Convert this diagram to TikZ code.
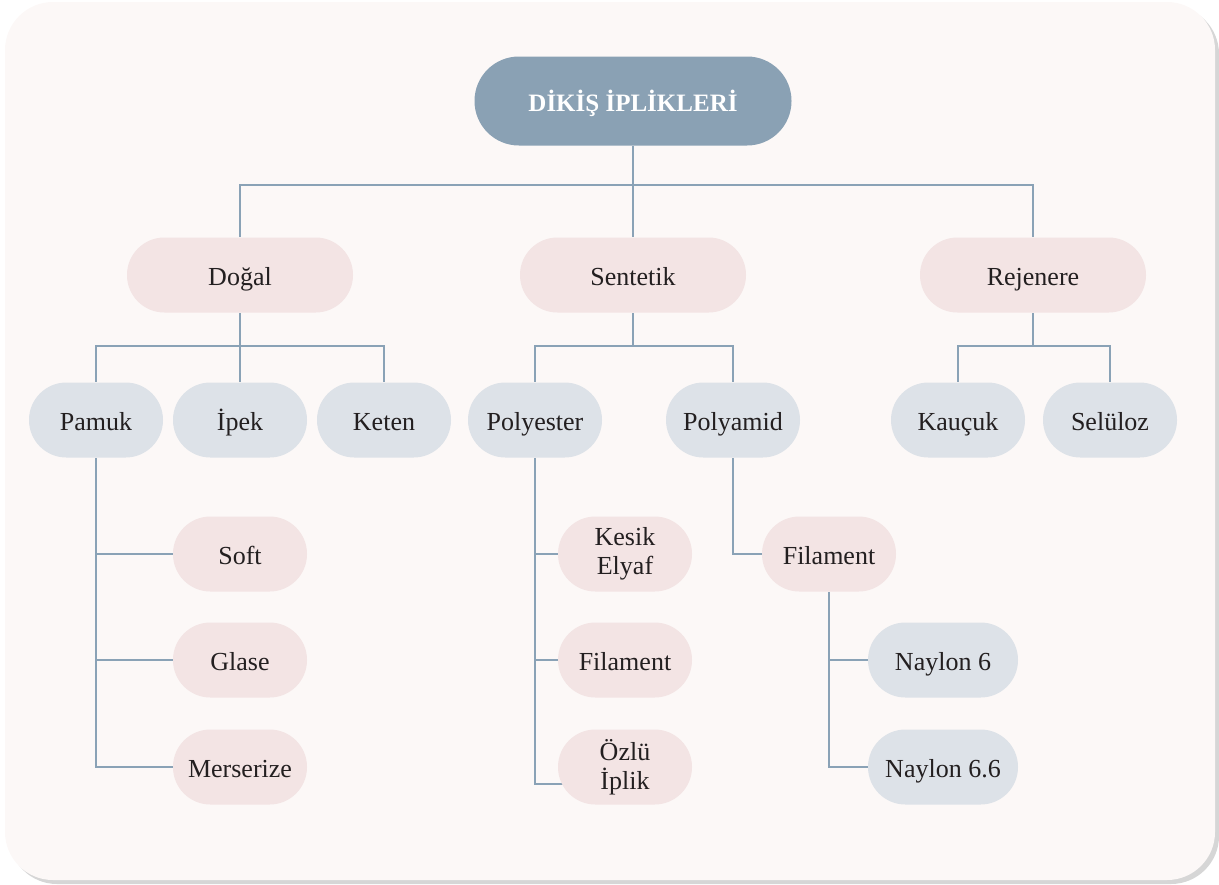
\documentclass[tikz,border=0pt]{standalone}
\usepackage{fontspec}
\setmainfont{Liberation Serif}
\usepackage{xcolor}
\usetikzlibrary{positioning, calc, backgrounds}
\pgfdeclarelayer{card}
\pgfsetlayers{card,background,main}

\definecolor{rootblue}{HTML}{8AA1B4}
\definecolor{pinkfill}{HTML}{F3E4E4}
\definecolor{greyfill}{HTML}{DDE2E8}
\definecolor{cardfill}{HTML}{FCF8F7}
\definecolor{shadowgrey}{HTML}{D6D6D6}
\definecolor{linkblue}{HTML}{8AA2B6}
\definecolor{inkdark}{HTML}{231F20}

\begin{document}
\begin{tikzpicture}[
    x=0.5pt, y=-0.5pt,
    box/.style      = {rectangle, inner sep=0pt, rounded corners=18.7pt,
                       minimum height=37.5pt, align=center, text=inkdark,
                       text height=11.5pt, text depth=1.5pt,
                       font=\fontsize{13}{14.5}\selectfont},
    rootbox/.style  = {box, fill=rootblue, text=white, rounded corners=22.2pt,
                       minimum width=158.5pt, minimum height=44.5pt,
                       font=\bfseries\fontsize{12.5}{15}\selectfont},
    groupbox/.style = {box, fill=pinkfill, minimum width=113pt},
    kindbox/.style  = {box, fill=greyfill, minimum width=67pt},
    subbox/.style   = {box, fill=pinkfill, minimum width=67pt},
    twoline/.style  = {subbox, text height=, text depth=},
    nylbox/.style   = {box, fill=greyfill, minimum width=75pt},
    link/.style     = {draw=linkblue, line width=1.3pt}
]
\useasboundingbox (0,0) rectangle (1219,884);

% ========= card =========
\begin{pgfonlayer}{card}
  \fill[shadowgrey, rounded corners=24pt] (9,6) rectangle (1219,884);
  \fill[cardfill, rounded corners=24pt] (5,2) rectangle (1215,880);
\end{pgfonlayer}

% ========= top =========
\node[rootbox] (root) at (633,101) {DİKİŞ İPLİKLERİ};

% ========= main groups =========
\node[groupbox] (dogal)    at (240,275)  {Doğal};
\node[groupbox] (sentetik) at (633,275)  {Sentetik};
\node[groupbox] (rejenere) at (1033,275) {Rejenere};

% ========= fibre kinds =========
\node[kindbox] (pamuk)     at (96,420)   {Pamuk};
\node[kindbox] (ipek)      at (240,420)  {İpek};
\node[kindbox] (keten)     at (384,420)  {Keten};
\node[kindbox] (polyester) at (535,420)  {Polyester};
\node[kindbox] (polyamid)  at (733,420)  {Polyamid};
\node[kindbox] (kaucuk)    at (958,420)  {Kauçuk};
\node[kindbox] (seluloz)   at (1110,420) {Selüloz};

% ========= sub types =========
\node[subbox] (soft)      at (240,554) {Soft};
\node[subbox] (glase)     at (240,660) {Glase};
\node[subbox] (merserize) at (240,767) {Merserize};

\node[twoline] (kesik)     at (625,554) {Kesik\\Elyaf};
\node[subbox]  (filamenta) at (625,660) {Filament};
\node[twoline] (ozlu)      at (625,767) {Özlü\\İplik};

\node[subbox] (filamentb) at (829,554) {Filament};
\node[nylbox] (naylona)   at (943,660) {Naylon 6};
\node[nylbox] (naylonb)   at (943,767) {Naylon 6.6};

% ========= connectors =========
\begin{scope}[on background layer]
  \draw[link] (root.south) -- ++(0,39) coordinate (rootbus) -| (dogal.north);
  \draw[link] (rootbus) -| (rejenere.north);
  \draw[link] (rootbus) -- (sentetik.north);

  \draw[link] (dogal.south) -- ++(0,33) coordinate (dogalbus) -| (pamuk.north);
  \draw[link] (dogalbus) -| (keten.north);
  \draw[link] (dogalbus) -- (ipek.north);

  \draw[link] (sentetik.south) -- ++(0,33) coordinate (sentbus) -| (polyester.north);
  \draw[link] (sentbus) -| (polyamid.north);

  \draw[link] (rejenere.south) -- ++(0,33) coordinate (rejbus) -| (kaucuk.north);
  \draw[link] (rejbus) -| (seluloz.north);

  \draw[link] (pamuk.south) |- (merserize.west);
  \draw[link] (pamuk.south |- soft.west) -- (soft.west);
  \draw[link] (pamuk.south |- glase.west) -- (glase.west);

  \draw[link] (polyester.south) |- ([yshift=-8.5pt,xshift=4pt]ozlu.west);
  \draw[link] (polyester.south |- kesik.west) -- (kesik.west);
  \draw[link] (polyester.south |- filamenta.west) -- (filamenta.west);

  \draw[link] (polyamid.south) |- (filamentb.west);

  \draw[link] (filamentb.south) |- (naylonb.west);
  \draw[link] (filamentb.south |- naylona.west) -- (naylona.west);
\end{scope}

\end{tikzpicture}
\end{document}
